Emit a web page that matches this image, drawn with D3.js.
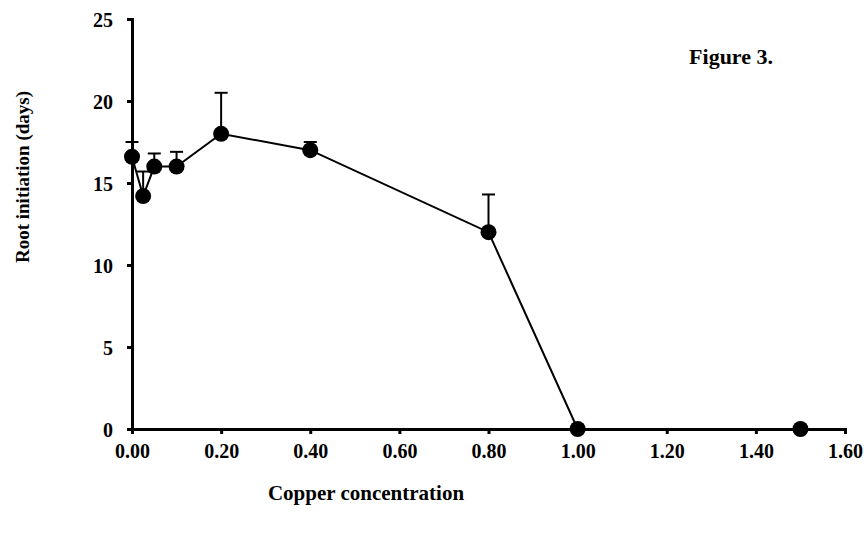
<!DOCTYPE html>
<html>
<head>
<meta charset="utf-8">
<script src="https://cdn.jsdelivr.net/npm/d3@7"></script>
<style>
  body { margin: 0; background: #fff; }
  text { font-family: "Liberation Serif", "Times New Roman", serif; font-weight: bold; fill: #000; }
</style>
</head>
<body>
<div id="chart"></div>
<script>
"use strict"

// copper concentration vs root initiation (days), error bars are upward only
var copper = [0, 0.025, 0.05, 0.1, 0.2, 0.4, 0.8, 1.0, 1.5];
var days   = [16.6, 14.2, 16.0, 16.0, 18.0, 17.0, 12.0, 0, 0];
var errUp  = [0.9, 1.5, 0.8, 0.9, 2.5, 0.5, 2.3, 0, 0];
var xTicks = [0, 0.2, 0.4, 0.6, 0.8, 1.0, 1.2, 1.4, 1.6];
var yTicks = [0, 5, 10, 15, 20, 25];

var W = 864, H = 534;

var svg = d3.select("#chart")
  .append("svg")
    .attr("width", W)
    .attr("height", H);

var x = d3.scaleLinear().domain([0, 1.6]).range([132, 845]);
var y = d3.scaleLinear().domain([0, 25]).range([429, 19]);

var points = copper.map((c, i) => ({x: c, y: days[i], e: errUp[i]}));

// axes
var xAxis = svg.append("g")
  .attr("transform", "translate(0," + y(0) + ")")
  .call(d3.axisBottom(x).tickValues(xTicks).tickFormat(d3.format(".2f")).tickSizeOuter(0).tickSize(5).tickPadding(10));

var yAxis = svg.append("g")
  .attr("transform", "translate(" + x(0) + ",0)")
  .call(d3.axisLeft(y).tickValues(yTicks).tickSizeOuter(0).tickSize(5).tickPadding(14));

[xAxis, yAxis].forEach(a => {
  a.select(".domain").attr("stroke", "#000").attr("stroke-width", 3);
  a.selectAll(".tick line").attr("stroke", "#000").attr("stroke-width", 3);
  a.selectAll(".tick text").style("font-size", "20px").attr("fill", "#000");
});
yAxis.selectAll(".tick text").attr("dy", "0.35em");

// error bars
var eb = svg.append("g")
  .selectAll("g")
  .data(points.filter(d => d.e > 0))
  .join("g");

eb.append("line")
  .attr("x1", d => x(d.x)).attr("x2", d => x(d.x))
  .attr("y1", d => y(d.y)).attr("y2", d => y(d.y + d.e))
  .attr("stroke", "#000").attr("stroke-width", 2);

eb.append("line")
  .attr("x1", d => x(d.x) - 6.5).attr("x2", d => x(d.x) + 6.5)
  .attr("y1", d => y(d.y + d.e)).attr("y2", d => y(d.y + d.e))
  .attr("stroke", "#000").attr("stroke-width", 2);

// connecting line
var line = d3.line().x(d => x(d.x)).y(d => y(d.y));
svg.append("path")
  .datum(points)
  .attr("d", line)
  .attr("fill", "none")
  .attr("stroke", "#000")
  .attr("stroke-width", 2);

svg.append("g")
  .selectAll("circle")
  .data(points)
  .join("circle")
    .attr("cx", d => x(d.x))
    .attr("cy", d => y(d.y))
    .attr("r", 8)
    .attr("fill", "#000");

// titles
svg.append("text")
  .attr("x", 366).attr("y", 500)
  .attr("text-anchor", "middle")
  .style("font-size", "21px")
  .text("Copper concentration");

svg.append("text")
  .attr("transform", "translate(29,177) rotate(-90)")
  .attr("text-anchor", "middle")
  .style("font-size", "19px")
  .text("Root initiation (days)");

svg.append("text")
  .attr("x", 773).attr("y", 64)
  .attr("text-anchor", "end")
  .style("font-size", "22px")
  .text("Figure 3.");
</script>
</body>
</html>
